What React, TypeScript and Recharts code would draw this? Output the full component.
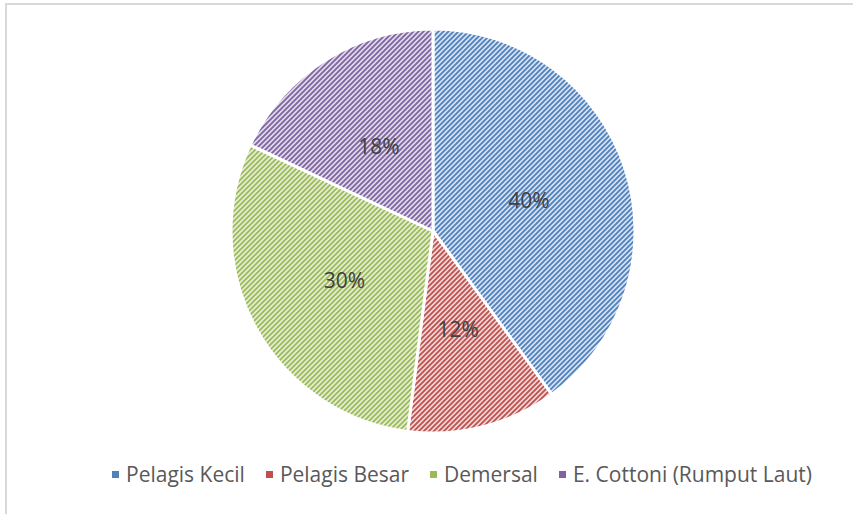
import { PieChart, Pie, Cell } from 'recharts'

const categories = ['Pelagis Kecil', 'Pelagis Besar', 'Demersal', 'E. Cottoni (Rumput Laut)']
const shares = [40, 12, 30, 18]

const LINE_COLORS = ['#4f81bd', '#c0504d', '#9bbb59', '#8064a2']
const BG_COLORS = ['#d6e2f2', '#f0d8d7', '#e6eed6', '#e0dae9']

const data = categories.map((name, i) => ({ name, value: shares[i] }))

const RAD = Math.PI / 180

const renderLabel = (props: any) => {
  const { cx, cy, midAngle, outerRadius, value } = props
  const r = outerRadius * 0.5
  const x = cx + r * Math.cos(-midAngle * RAD)
  const y = cy + r * Math.sin(-midAngle * RAD)
  return (
    <text
      x={x}
      y={y}
      fill="#404040"
      fontSize={21}
      fontFamily="'Open Sans', sans-serif"
      textAnchor="middle"
      dominantBaseline="central"
    >
      {`${value}%`}
    </text>
  )
}

// hatch patterns live in a separate svg, ids are global in the document
function Patterns() {
  return (
    <svg width={0} height={0} style={{ position: 'absolute' }}>
      <defs>
        {LINE_COLORS.map((c, i) => (
          <pattern key={i} id={`hatch-${i}`} patternUnits="userSpaceOnUse" width={5} height={5}>
            <rect width={5} height={5} fill={BG_COLORS[i]} />
            <path d="M-1,6 L6,-1 M-1,1 L1,-1 M4,6 L6,4" stroke={c} strokeWidth={1.8} />
          </pattern>
        ))}
      </defs>
    </svg>
  )
}

export default function App() {
  return (
    <div style={{ position: 'relative', width: 853, height: 514, background: '#fff', overflow: 'hidden' }}>
      <style>{'body{margin:0}'}</style>
      <Patterns />
      <div
        style={{
          position: 'absolute',
          left: 5,
          top: 3,
          width: 900,
          height: 600,
          borderLeft: '2px solid #d9d9d9',
          borderTop: '2px solid #d9d9d9',
        }}
      />
      <div style={{ position: 'absolute', left: 0, top: 0 }}>
        <PieChart width={853} height={450}>
          <Pie
            data={data}
            dataKey="value"
            nameKey="name"
            cx={428}
            cy={226}
            outerRadius={202}
            startAngle={90}
            endAngle={-270}
            stroke="#fff"
            strokeWidth={3}
            label={renderLabel}
            labelLine={false}
            isAnimationActive={false}
          >
            {data.map((entry, index) => (
              <Cell key={`cell-${index}`} fill={`url(#hatch-${index})`} />
            ))}
          </Pie>
        </PieChart>
      </div>
      <div
        style={{
          position: 'absolute',
          left: 0,
          top: 460,
          width: 853,
          display: 'flex',
          justifyContent: 'center',
          paddingLeft: 71,
          boxSizing: 'border-box',
          fontFamily: "'Open Sans', sans-serif",
          fontSize: 21,
          color: '#595959',
          gap: 21,
        }}
      >
        {categories.map((name, i) => (
          <div key={name} style={{ display: 'flex', alignItems: 'center' }}>
            <span
              style={{
                display: 'inline-block',
                width: 7,
                height: 7,
                background: LINE_COLORS[i],
                marginRight: 7,
              }}
            />
            <span>{name}</span>
          </div>
        ))}
      </div>
    </div>
  )
}
